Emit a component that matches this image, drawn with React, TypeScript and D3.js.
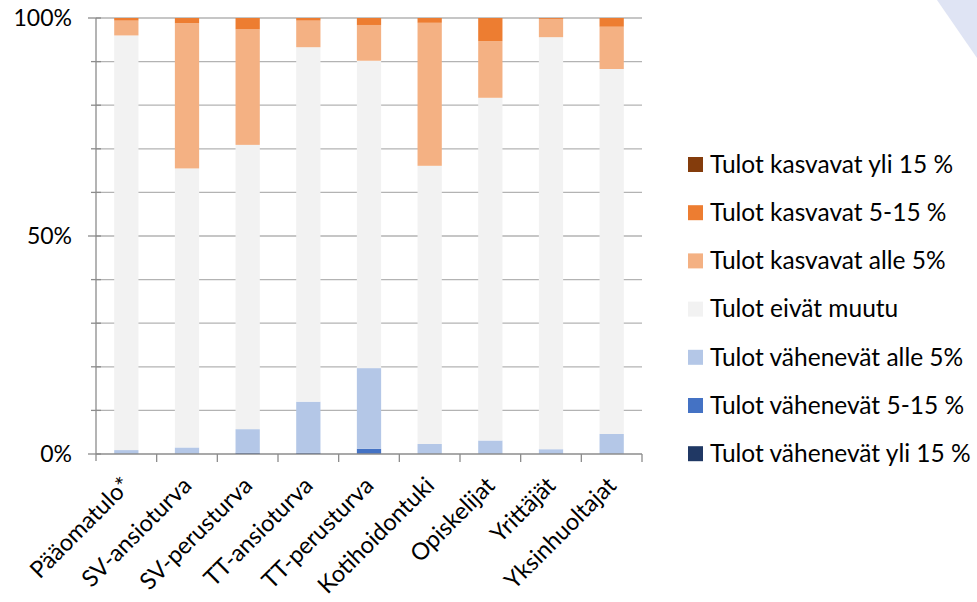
import React from "react";
import * as d3 from "d3";

const categories = ["Pääomatulo*", "SV-ansioturva", "SV-perusturva", "TT-ansioturva", "TT-perusturva", "Kotihoidontuki", "Opiskelijat", "Yrittäjät", "Yksinhuoltajat"];
const seriesNames = ["Tulot vähenevät yli 15 %", "Tulot vähenevät 5-15 %", "Tulot vähenevät alle 5%", "Tulot eivät muutu", "Tulot kasvavat alle 5%", "Tulot kasvavat 5-15 %", "Tulot kasvavat yli 15 %"];
const vahYli15 = [0, 0, 0, 0, 0, 0, 0, 0, 0];
const vah515 = [0, 0, 0.3, 0.3, 1.2, 0, 0, 0, 0];
const vahAlle5 = [0.9, 1.5, 5.4, 11.7, 18.5, 2.3, 3.1, 1.1, 4.6];
const eiMuutu = [95.1, 64.0, 65.2, 81.3, 70.5, 63.8, 78.6, 94.5, 83.7];
const kasAlle5 = [3.4, 33.3, 26.5, 6.1, 8.2, 32.8, 13.0, 4.2, 9.7];
const kas515 = [0.6, 1.2, 2.6, 0.6, 1.6, 1.1, 5.3, 0.2, 2.0];
const kasYli15 = [0, 0, 0, 0, 0, 0, 0, 0, 0];
const yTickLabels = [0, 50, 100];
const colors = ["#203864", "#4472c4", "#b4c7e7", "#f2f2f2", "#f4b183", "#ed7d31", "#843c0c"];

const W = 977, H = 602;
const left = 96, right = 642, top = 18, bottom = 454;
const FONT = "Lato, 'Open Sans', sans-serif";

export default function App() {
  const seriesData = [vahYli15, vah515, vahAlle5, eiMuutu, kasAlle5, kas515, kasYli15];
  const rows = categories.map((c, i) => {
    const r: any = { cat: c };
    seriesNames.forEach((s, k) => (r[s] = seriesData[k][i]));
    return r;
  });
  const stacked = d3.stack<any>().keys(seriesNames).offset(d3.stackOffsetExpand)(rows);
  const x = d3.scaleBand<string>().domain(categories).range([left, right]).paddingInner(0.6).paddingOuter(0.3);
  const xb = d3.scaleBand<string>().domain(categories).range([left, right]);
  const y = d3.scaleLinear().domain([0, 1]).range([bottom, top]);
  const grid = d3.range(0, 1.0001, 0.1);
  const legendOrder = [...seriesNames].reverse();

  return (
    <svg width={W} height={H} style={{ position: "absolute", left: 0, top: 0, background: "#fff" }} fontFamily={FONT}>
      <polygon points={`937,0 977,0 977,58`} fill="#dfe4f4" />
      {grid.slice(1).map((g, i) => (
        <line key={"g" + i} x1={left} x2={right} y1={y(g)} y2={y(g)} stroke="#b3b3b3" strokeWidth={1.3} />
      ))}
      {stacked.map((s, k) => (
        <g key={s.key} fill={colors[k]}>
          {s.map((d, i) => {
            const h = y(d[0]) - y(d[1]);
            if (h <= 0) return null;
            return <rect key={i} x={x(categories[i])} y={y(d[1])} width={x.bandwidth()} height={h} />;
          })}
        </g>
      ))}
      {/* y axis */}
      <line x1={left} x2={left} y1={top} y2={bottom + 7} stroke="#8c8c8c" strokeWidth={1.3} />
      {grid.map((g, i) => {
        const major = Math.round(g * 100) % 50 === 0;
        return <line key={"t" + i} x1={major ? 88 : 91} x2={101} y1={y(g)} y2={y(g)} stroke="#8c8c8c" strokeWidth={1.3} />;
      })}
      {yTickLabels.map((v) => (
        <text key={v} x={72} y={y(v / 100)} dy="0.36em" textAnchor="end" fontSize={23} fill="#000">{v}%</text>
      ))}
      {/* x axis */}
      <line x1={left} x2={right} y1={bottom} y2={bottom} stroke="#8c8c8c" strokeWidth={1.3} />
      {categories.map((c, i) => (
        <line key={"xt" + i} x1={(xb(c) as number) + xb.bandwidth()} x2={(xb(c) as number) + xb.bandwidth()} y1={bottom} y2={bottom + 8} stroke="#8c8c8c" strokeWidth={1.3} />
      ))}
      {categories.map((c) => {
        const cx = (xb(c) as number) + xb.bandwidth() / 2 + 6;
        const cy = bottom + 33;
        return (
          <text key={"xl" + c} transform={`translate(${cx},${cy}) rotate(-45)`} textAnchor="end" fontSize={23.5} fill="#000">{c}</text>
        );
      })}
      {/* legend */}
      {legendOrder.map((s, i) => {
        const ly = 164 + i * 48.2;
        const k = seriesNames.indexOf(s);
        return (
          <g key={s}>
            <rect x={688} y={ly - 7} width={15} height={15} fill={colors[k]} />
            <text x={710} y={ly} dy="0.36em" fontSize={24.5} fill="#000">{s}</text>
          </g>
        );
      })}
    </svg>
  );
}
